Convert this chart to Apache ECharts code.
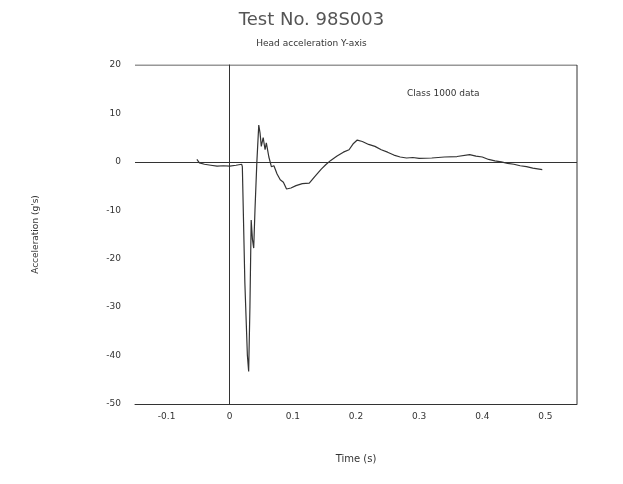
<!DOCTYPE html><html><head><meta charset="utf-8">
<script src="https://cdn.jsdelivr.net/npm/echarts@6/dist/echarts.min.js"></script>
<style>html,body{margin:0;padding:0;background:#fff}#c{width:623px;height:484px}</style></head><body><div id="c"></div>
<script>
const times = [-0.052,-0.048,-0.04,-0.03,-0.02,-0.01,0,0.01,0.019,0.020,0.024,0.028,0.030,0.032,0.034,0.036,0.038,0.040,0.043,0.046,0.048,0.050,0.053,0.056,0.058,0.062,0.066,0.070,0.075,0.080,0.085,0.090,0.097,0.105,0.115,0.126,0.135,0.145,0.152,0.160,0.170,0.180,0.189,0.196,0.202,0.21,0.22,0.23,0.24,0.25,0.26,0.27,0.28,0.29,0.30,0.32,0.34,0.36,0.38,0.39,0.40,0.41,0.42,0.43,0.44,0.45,0.46,0.47,0.48,0.49,0.495];
const accel = [0.5,-0.2,-0.5,-0.7,-0.9,-0.8,-0.9,-0.7,-0.5,-1,-25,-40,-43.3,-30,-12,-16,-17.8,-10,0,7.6,6,3.2,5,2.5,3.9,1,-1,-0.8,-2.5,-3.7,-4.2,-5.6,-5.4,-4.9,-4.5,-4.4,-3,-1.5,-0.6,0.3,1.2,2,2.5,3.8,4.5,4.2,3.6,3.2,2.5,2.0,1.4,1.0,0.8,0.9,0.7,0.8,1.0,1.1,1.5,1.2,1.0,0.5,0.2,0,-0.3,-0.5,-0.8,-1.0,-1.3,-1.5,-1.6];
const xTicks = [-0.1,0,0.1,0.2,0.3,0.4,0.5];
const chart = echarts.init(document.getElementById('c'));
const font = 'DejaVu Sans';
chart.setOption({
  animation:false,
  title:[{text:'Test No. 98S003',left:'center',top:6,textStyle:{fontFamily:font,fontWeight:'normal',fontSize:18,color:'#555'}},
         {text:'Head acceleration Y-axis',left:'center',top:34,textStyle:{fontFamily:font,fontWeight:'normal',fontSize:9,color:'#333'}},
         {text:'Class 1000 data',left:402,top:84,textStyle:{fontFamily:font,fontWeight:'normal',fontSize:9,color:'#333'}}],
  grid:{left:135,right:46,top:65,bottom:80},
  xAxis:{type:'value',min:-0.15,max:0.55,name:'Time (s)',nameLocation:'middle',nameGap:50,
    nameTextStyle:{fontFamily:font,fontSize:10,color:'#333'},
    axisLine:{onZero:false,lineStyle:{color:'#333'}},axisTick:{show:false},splitLine:{show:false},
    axisLabel:{fontFamily:font,fontSize:9,color:'#333',customValues:xTicks,formatter:v=>v===0?'0':String(Math.round(v*10)/10)},
  },
  yAxis:{type:'value',min:-50,max:20,interval:10,name:'Acceleration (g\'s)',nameLocation:'middle',nameGap:95,
    nameTextStyle:{fontFamily:font,fontSize:9,color:'#333'},
    axisLine:{show:true,lineStyle:{color:'#333'}},axisTick:{show:false},splitLine:{show:false},
    axisLabel:{fontFamily:font,fontSize:9,color:'#333',margin:14}},
  series:[{type:'line',data:times.map((t,i)=>[t,accel[i]]),showSymbol:false,lineStyle:{color:'#333',width:1.2},
    markLine:{silent:true,symbol:'none',label:{show:false},lineStyle:{color:'#333',width:1,type:'solid'},
      data:[{xAxis:0},{yAxis:0}]}},
    {type:'line',data:[[0.55,-50],[0.55,20],[-0.15,20]],showSymbol:false,lineStyle:{color:'#333',width:1}}]
});
</script></body></html>
